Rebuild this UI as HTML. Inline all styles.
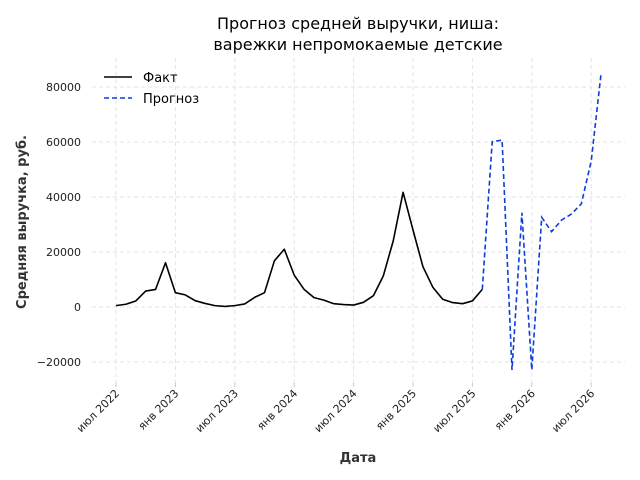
<!DOCTYPE html>
<html><head><meta charset="utf-8"><style>
body{margin:0;background:#fff}
svg{display:block;font-family:"DejaVu Sans","Liberation Sans",sans-serif}
</style></head><body>
<svg id="chart" width="640" height="480" viewBox="0 0 640 480">
<text x="358" y="29" text-anchor="middle" font-size="16" fill="#000">Прогноз средней выручки, ниша:</text>
<text x="358" y="50" text-anchor="middle" font-size="16" fill="#000">варежки непромокаемые детские</text>
<g id="grid"></g>
<g id="axes"></g>
<g id="series"></g>
<text x="358" y="462" text-anchor="middle" font-size="13" font-weight="bold" fill="#333">Дата</text>
<text transform="translate(26,222) rotate(-90)" text-anchor="middle" font-size="13" font-weight="bold" fill="#333">Средняя выручка, руб.</text>
<g>
<line x1="104" y1="77" x2="132" y2="77" stroke="#000" stroke-width="1.6"/>
<text x="143" y="82" font-size="13" fill="#000">Факт</text>
<line x1="104" y1="98" x2="132" y2="98" stroke="#0b3de0" stroke-width="1.6" stroke-dasharray="5,3"/>
<text x="143" y="103" font-size="13" fill="#000">Прогноз</text>
</g>
</svg>
<script>
const factValues=[500,1000,2200,5800,6400,16100,5200,4400,2300,1300,500,200,500,1100,3500,5200,16800,21000,11600,6400,3400,2500,1200,900,700,1700,4100,11300,24000,41700,28000,14700,7200,2800,1600,1200,2200,6400];
const forecastValues=[6400,60100,60700,-22900,34300,-22900,32600,27400,31600,33800,37500,53000,85000];
const forecastStart=37;
const yTicks=[-20000,0,20000,40000,60000,80000];
const xTickLabels=["июл 2022","янв 2023","июл 2023","янв 2024","июл 2024","янв 2025","июл 2025","янв 2026","июл 2026"];
const xTickMonths=[0,6,12,18,24,30,36,42,48];

const NS="http://www.w3.org/2000/svg";
const X0=116,DX=9.9,Y0=307,KY=2.75/1000;
function xs(i){return X0+i*DX;}
function ys(v){return Y0-v*KY;}
function mk(t,a,p){const e=document.createElementNS(NS,t);for(const k in a)e.setAttribute(k,a[k]);p.appendChild(e);return e;}
const grid=document.getElementById('grid'),axes=document.getElementById('axes'),ser=document.getElementById('series');
yTicks.forEach(v=>{
 const l=mk('line',{x1:92,x2:625,y1:ys(v),y2:ys(v),stroke:'#e3e3e3','stroke-dasharray':'4,3','stroke-width':1},grid);
 
 
 const t=mk('text',{x:81,y:ys(v)+4,'text-anchor':'end','font-size':11,fill:'#222'},axes);
 t.textContent=v<0?'\u2212'+Math.abs(v):String(v);
 
 
});
xTickMonths.forEach((m,i)=>{
 const x=xs(m);
 const l=mk('line',{x1:x,x2:x,y1:58,y2:385,stroke:'#e3e3e3','stroke-dasharray':'4,3','stroke-width':1},grid);
 
 
 const tk=mk('line',{x1:x,x2:x,y1:383,y2:387,stroke:'#ccc'},axes);
 
 
 const t=mk('text',{x:x+4,y:394,'text-anchor':'end','font-size':11,fill:'#222',transform:`rotate(-45 ${x+4} 394)`},axes);
 t.textContent=xTickLabels[i];
 
 
});
const fp=mk('polyline',{points:factValues.map((v,i)=>xs(i)+','+ys(v)).join(' '),fill:'none',stroke:'#000','stroke-width':1.6,'stroke-linejoin':'round'},ser);


const pp=mk('polyline',{points:forecastValues.map((v,i)=>xs(forecastStart+i)+','+ys(v)).join(' '),fill:'none',stroke:'#0b3de0','stroke-width':1.6,'stroke-dasharray':'5,3'},ser);


</script>
</body></html>
